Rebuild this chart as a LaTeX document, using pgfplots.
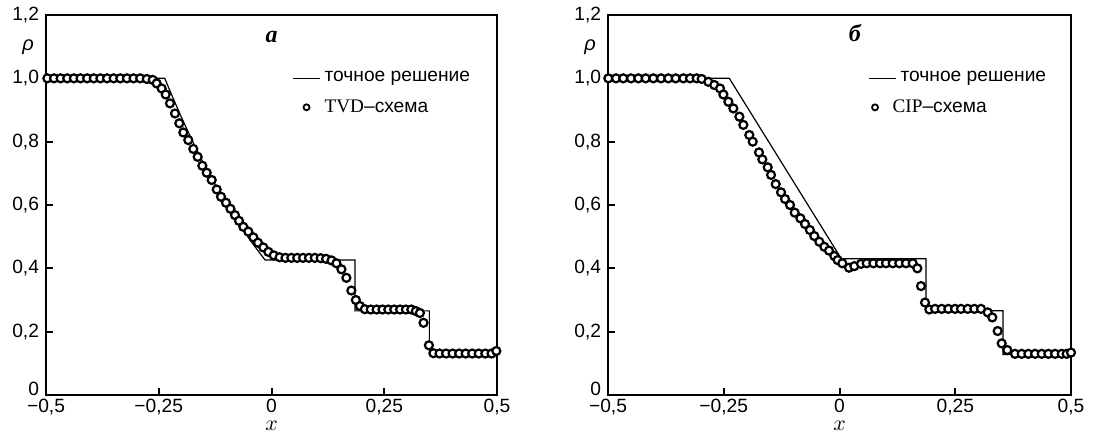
\documentclass[border=0pt]{standalone}
\usepackage{pgfplots}
\pgfplotsset{compat=1.18}
\usepackage{fontspec}
\setmainfont{Liberation Sans}
\newfontfamily\serifcyr{Liberation Serif}

\pgfplotsset{
  myaxis/.style={
    scale only axis, height=190bp,
    xmin=-0.5, xmax=0.5, ymin=0, ymax=1.2,
    axis line style={line width=1bp},
    tick align=inside, xtick pos=bottom, ytick pos=left,
    major tick length=3.5bp,
    every tick/.style={black, line width=1bp},
    xtick={-0.5,-0.25,0,0.25,0.5},
    xticklabels={{−0,5},{−0,25},{0},{0,25},{0,5}},
    ytick={0,0.2,0.4,0.6,0.8,1.0,1.2},
    yticklabels={{\smash{0}},{0,2},{0,4},{0,6},{0,8},{1,0},{1,2}},
    tick label style={font=\fontsize{9.6bp}{10bp}\selectfont},
    xticklabel style={inner sep=1bp, yshift=-1bp},
    yticklabel style={inner sep=1bp, xshift=-2.3bp},
    legend cell align=left,
    legend style={draw=none, fill=none, anchor=north west, inner sep=0pt,
      row sep=3.3bp, font=\fontsize{9.6bp}{10bp}\selectfont},
    clip=false,
  },
  exact/.style={black, line width=0.6bp, mark=none},
  num/.style={black, only marks, mark=*, mark size=2bp,
    mark options={line width=1.1bp, fill=white, draw=black}},
}

\begin{document}
\begin{tikzpicture}[x=1bp,y=1bp]
\useasboundingbox (0,0) rectangle (557,216.5);

% ---------------- panel a ----------------
\begin{axis}[myaxis, width=225.5bp, at={(23bp,19bp)}, anchor=south west,
  legend style={at={(rel axis cs:0.5455,0.8625)}}]
\addplot[exact, legend image code/.code={\draw[line width=0.6bp] (0,0) -- (13.5bp,0);}]
coordinates {(-0.5,1) (-0.2366,1) (-0.225,0.9597) (-0.2,0.8776) (-0.175,0.8009)
 (-0.15,0.7300) (-0.125,0.6640) (-0.1,0.6030) (-0.075,0.5465) (-0.05,0.4944)
 (-0.025,0.4461) (-0.014,0.4262) (0.185,0.4262) (0.185,0.2656) (0.350,0.2656)
 (0.350,0.128) (0.5,0.128)};
\addlegendentry{точное решение}
\addplot[num, legend image code/.code={\draw[line width=0.9bp, fill=white] (6.75bp,0) circle[radius=1.5bp];}]
coordinates {
 (-0.497,1) (-0.4823,1) (-0.4676,1) (-0.4529,1) (-0.4382,1) (-0.4235,1)
 (-0.4088,1) (-0.3941,1) (-0.3794,1) (-0.3647,1) (-0.35,1) (-0.3353,1)
 (-0.3206,1) (-0.3059,1) (-0.2912,1) (-0.2765,0.998)
 (-0.2634,0.995) (-0.2546,0.984) (-0.2435,0.968) (-0.2346,0.949) (-0.2251,0.921)
 (-0.2140,0.889) (-0.2044,0.858) (-0.1956,0.829) (-0.1845,0.805) (-0.1734,0.777)
 (-0.1637,0.752) (-0.1534,0.724) (-0.1437,0.702) (-0.1326,0.679) (-0.1215,0.649)
 (-0.1120,0.626) (-0.1009,0.607) (-0.0910,0.588) (-0.0810,0.568) (-0.0721,0.550)
 (-0.0625,0.531) (-0.0514,0.516) (-0.0403,0.498) (-0.0300,0.481) (-0.0181,0.466)
 (-0.007,0.452) (0.005,0.441) (0.018,0.435) (0.031,0.433) (0.044,0.433)
 (0.057,0.433) (0.070,0.433) (0.083,0.433) (0.096,0.433) (0.109,0.432)
 (0.121,0.430) (0.133,0.425) (0.144,0.416) (0.155,0.397) (0.166,0.370)
 (0.177,0.330) (0.187,0.300) (0.196,0.281) (0.207,0.271) (0.220,0.270)
 (0.233,0.270) (0.246,0.270) (0.259,0.270) (0.272,0.270) (0.285,0.270)
 (0.298,0.270) (0.310,0.270) (0.320,0.265) (0.329,0.259) (0.337,0.228)
 (0.349,0.157) (0.359,0.132) (0.3725,0.131) (0.387,0.131) (0.4015,0.131)
 (0.416,0.131) (0.4305,0.131) (0.445,0.131) (0.4595,0.131) (0.474,0.131)
 (0.488,0.131) (0.4985,0.139)};
\addlegendentry{{\serifcyr TVD}–схема}
\node[font=\fontsize{12bp}{14bp}\serifcyr\bfseries\itshape] at (axis cs:0,1.13) {a};
\node[font=\fontsize{10bp}{12bp}\selectfont\itshape] at (rel axis cs:0,0.916) [xshift=-9bp] {ρ};
\node[font=\fontsize{10.5bp}{12bp}\selectfont, inner sep=0pt] at (rel axis cs:0.5,0) [yshift=-15.6bp] {$x$};
\end{axis}

% ---------------- panel б ----------------
\begin{axis}[myaxis, width=231.5bp, at={(304bp,19bp)}, anchor=south west,
  legend style={at={(rel axis cs:0.5616,0.8625)}}]
\addplot[exact, legend image code/.code={\draw[line width=0.6bp] (0,0) -- (13.5bp,0);}]
coordinates {(-0.5,1) (-0.238,1) (0.004,0.43) (0.187,0.43) (0.187,0.266)
 (0.353,0.266) (0.353,0.128) (0.5,0.128)};
\addlegendentry{точное решение}
\addplot[num, legend image code/.code={\draw[line width=0.9bp, fill=white] (3bp,0) circle[radius=1.5bp];}]
coordinates {
 (-0.4993,1) (-0.4827,1) (-0.467,1) (-0.4503,1) (-0.4345,1) (-0.4187,1)
 (-0.4021,1) (-0.3855,1) (-0.3697,1) (-0.3538,1) (-0.3373,1) (-0.3229,1)
 (-0.3085,1) (-0.2977,0.998) (-0.2833,0.989) (-0.2704,0.979) (-0.2581,0.968)
 (-0.2509,0.949) (-0.2401,0.926) (-0.2293,0.905) (-0.2163,0.879) (-0.2077,0.853)
 (-0.1948,0.821) (-0.1875,0.800) (-0.1739,0.766) (-0.1667,0.744) (-0.1551,0.719)
 (-0.1479,0.695) (-0.1378,0.666) (-0.1263,0.640) (-0.1177,0.619) (-0.1069,0.600)
 (-0.0968,0.576) (-0.0845,0.558) (-0.0745,0.540) (-0.0640,0.521) (-0.0544,0.502)
 (-0.0436,0.484) (-0.0328,0.468) (-0.0227,0.456) (-0.0112,0.439) (-0.0040,0.426)
 (0.0061,0.416) (0.0205,0.402) (0.0320,0.407) (0.0464,0.414) (0.0587,0.416)
 (0.0731,0.416) (0.0875,0.416) (0.1004,0.416) (0.1149,0.416) (0.1292,0.416)
 (0.1436,0.416) (0.1581,0.416) (0.1681,0.400) (0.1760,0.344) (0.1847,0.292)
 (0.1940,0.270) (0.2063,0.272) (0.2207,0.272) (0.2351,0.272) (0.2495,0.272)
 (0.2624,0.272) (0.2769,0.272) (0.2912,0.272) (0.3056,0.272) (0.3201,0.261)
 (0.3300,0.245) (0.3416,0.202) (0.3503,0.163) (0.3624,0.142) (0.3790,0.130)
 (0.3935,0.130) (0.4079,0.130) (0.4223,0.130) (0.4367,0.130) (0.4511,0.130)
 (0.4655,0.130) (0.4799,0.130) (0.4906,0.130) (0.5,0.134)};
\addlegendentry{\hspace*{-4bp}{\serifcyr CIP}–схема}
\node[font=\fontsize{12bp}{14bp}\serifcyr\bfseries\itshape] at (axis cs:0.033,1.143) {б};
\node[font=\fontsize{10bp}{12bp}\selectfont\itshape] at (rel axis cs:0,0.916) [xshift=-9bp] {ρ};
\node[font=\fontsize{10.5bp}{12bp}\selectfont, inner sep=0pt] at (rel axis cs:0.5,0) [yshift=-15.6bp] {$x$};
\end{axis}
\end{tikzpicture}
\end{document}
